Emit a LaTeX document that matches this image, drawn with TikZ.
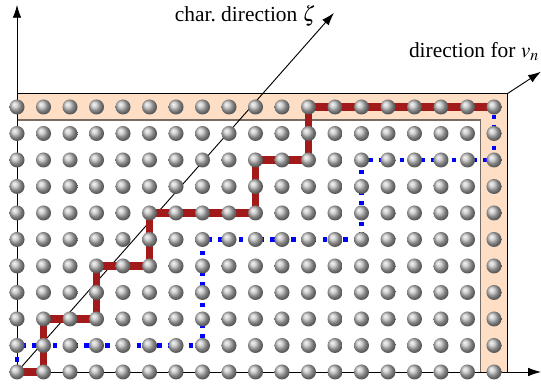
\documentclass[tikz,border=0pt]{standalone}
\usepackage{mathptmx}
\usepackage{fontspec}
\setmainfont{Liberation Serif}
\usetikzlibrary{arrows.meta}
\definecolor{banda}{RGB}{254,222,196}
\definecolor{rojo}{RGB}{163,26,26}
\definecolor{bordegris}{RGB}{118,108,100}
\begin{document}
\begin{tikzpicture}[x=0.5cm,y=0.5cm,
    bola/.style={circle,inner sep=0pt,minimum size=0.283cm,shading=ball,ball color=gray!50},
    camino/.style={line width=3.8pt,rojo},
    puntos/.style={line width=2.3pt,blue,dash pattern=on 2.3pt off 3.3pt},
    eje/.style={-{Latex[length=2.4mm,width=1.6mm]}},
    rotulo/.style={font=\fontsize{11.5}{14}\selectfont,inner sep=0pt}]
    \useasboundingbox (-0.642,-0.642) rectangle (19.774,14.038);
    \foreach \i in {0,...,18}
      \foreach \j in {0,...,10}
        \coordinate (p-\i-\j) at (\i,\j);
    \coordinate (ey) at (0,13.85);
    \coordinate (ex) at (19.77,0);
    \coordinate (ez) at (11.96,13.55);
    \coordinate (esq) at (18.5,10.5);
    \coordinate (ev) at (19.77,11.33);
    % Banda
    \fill[banda] (0,10.5) -- (esq) -- (18.5,0) -- (17.5,0) -- (17.5,9.5) -- (0,9.5) -- cycle;
    \draw[bordegris,line width=0.8pt] (0,9.5) -- (17.5,9.5) -- (17.5,0);
    \draw[black,line width=0.6pt] (0,10.5) -- (esq) -- (18.5,0);
    % Ejes
    \draw[eje] (p-0-0) -- (ey);
    \draw[eje] (p-0-0) -- (ex);
    \draw[eje,line width=0.5pt] (p-0-0) -- (ez);
    \draw[eje,line width=0.5pt] (esq) -- (ev);
    % Caminos
    \draw[puntos] (p-0-0) -- (p-0-1) -- (p-7-1) -- (p-7-5) -- (p-13-5) -- (p-13-8) -- (p-18-8) -- (p-18-10);
    \draw[camino] (p-0-0) -- (p-1-0) -- (p-1-2) -- (p-3-2) -- (p-3-4) -- (p-5-4) -- (p-5-6)
      -- (p-9-6) -- (p-9-8) -- (p-11-8) -- (p-11-10) -- (p-18-10);
    % Puntos
    \foreach \i in {0,...,18}
      \foreach \j in {0,...,10}
        \node[bola] (b-\i-\j) at (p-\i-\j) {};
    % Textos
    \node[rotulo] (zeta) at (8.62,13.45) {char.\ direction $\zeta$};
    \node[rotulo] (vn) at (17.25,12.1) {direction for $v_n$};
  \end{tikzpicture}
\end{document}
